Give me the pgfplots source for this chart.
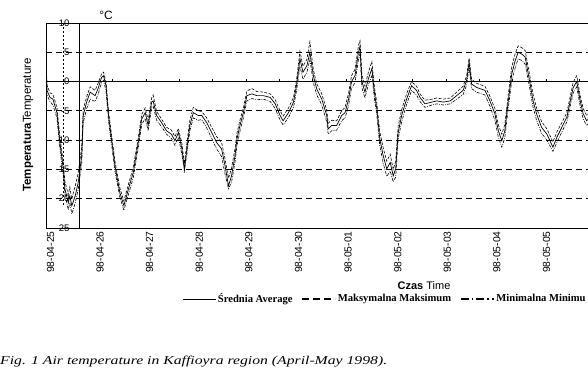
\documentclass[border=0pt]{standalone}
\usepackage{fontspec}
\setmainfont{Liberation Sans}
\newfontfamily\serif{Liberation Serif}
\usepackage{pgfplots}
\usepackage{pgfplotstable}
\pgfplotsset{compat=1.18}

\pgfplotstableread{
x avg hi lo
0.00 3.5 4.2 2.6
0.02 -1.5 -0.6 -2.3
0.08 -2.7 -1.9 -3.4
0.14 -3.0 -2.2 -4.0
0.22 -5.3 -4.4 -6.2
0.28 -10.4 -9.4 -11.5
0.35 -15.0 -13.9 -16.2
0.38 -18.3 -17.0 -19.2
0.45 -20.7 -19.3 -21.9
0.48 -19.5 -18.0 -20.6
0.52 -21.2 -20.1 -22.6
0.55 -20.5 -19.0 -21.8
0.59 -19.5 -17.8 -20.7
0.65 -17.2 -15.6 -18.4
0.72 -12.7 -11.2 -13.9
0.75 -5.8 -4.8 -7.0
0.82 -3.5 -2.6 -4.6
0.89 -1.8 -0.9 -3.0
0.99 -2.4 -1.5 -3.4
1.05 -1.2 -0.3 -2.2
1.12 0.7 1.3 -0.2
1.16 1.0 1.6 0.2
1.21 -0.7 0.0 -1.6
1.26 -5.8 -5.0 -6.7
1.33 -10.4 -9.6 -11.3
1.39 -14.4 -13.6 -15.3
1.49 -19.0 -18.2 -19.8
1.57 -21.2 -20.4 -22.0
1.66 -18.4 -17.6 -19.3
1.76 -15.5 -14.6 -16.4
1.86 -10.4 -9.6 -11.4
1.93 -6.4 -5.6 -7.3
2.00 -5.3 -4.5 -6.3
2.06 -7.5 -6.6 -8.4
2.13 -3.5 -2.8 -4.4
2.16 -3.3 -2.3 -4.2
2.23 -5.8 -5.1 -6.6
2.33 -7.0 -6.4 -7.7
2.43 -8.4 -7.8 -9.0
2.53 -9.0 -8.3 -9.7
2.60 -10.1 -9.4 -10.9
2.67 -8.7 -8.0 -9.5
2.74 -11.5 -10.6 -12.5
2.79 -14.9 -14.0 -15.3
2.84 -11.5 -10.6 -12.4
2.90 -7.5 -6.6 -8.4
2.97 -5.3 -4.4 -6.2
3.07 -5.8 -5.0 -6.6
3.14 -5.8 -5.1 -6.5
3.24 -7.0 -6.2 -7.9
3.34 -8.7 -7.8 -9.7
3.44 -10.4 -9.4 -11.5
3.54 -11.5 -10.4 -12.8
3.61 -14.4 -13.2 -15.8
3.68 -17.8 -16.5 -18.3
3.74 -16.1 -14.8 -17.2
3.81 -12.7 -11.5 -13.8
3.85 -9.8 -8.8 -11.0
3.91 -7.5 -6.6 -8.5
3.98 -5.3 -4.5 -6.2
4.05 -2.4 -1.6 -3.3
4.15 -2.1 -1.2 -2.9
4.25 -2.4 -1.7 -3.1
4.38 -2.4 -1.8 -3.0
4.52 -2.7 -2.1 -3.4
4.62 -3.8 -3.1 -4.6
4.72 -5.8 -5.0 -6.6
4.78 -6.7 -5.9 -7.4
4.89 -5.3 -4.5 -6.1
4.99 -3.5 -2.7 -4.4
5.05 -0.7 0.2 -1.6
5.12 3.9 5.2 2.6
5.18 1.6 2.6 0.4
5.26 2.7 3.8 1.6
5.32 5.0 6.8 3.8
5.39 1.0 2.0 -0.2
5.46 -1.3 -0.4 -2.3
5.56 -3.0 -2.1 -4.0
5.66 -5.8 -4.9 -6.9
5.69 -8.1 -7.1 -9.0
5.76 -7.5 -6.6 -8.4
5.86 -7.5 -6.7 -8.3
5.96 -5.8 -5.0 -6.7
6.03 -5.3 -4.4 -6.2
6.10 -3.0 -2.0 -4.1
6.16 0.0 1.0 -1.1
6.23 1.0 2.1 -0.2
6.30 5.0 6.2 3.8
6.33 6.0 7.0 4.8
6.37 0.0 1.2 -1.1
6.43 -1.8 -0.8 -2.8
6.50 0.5 1.6 -0.5
6.57 2.2 3.4 1.0
6.62 -1.8 -0.8 -2.8
6.67 -4.7 -3.7 -5.8
6.73 -9.8 -8.6 -11.0
6.80 -12.7 -11.4 -14.0
6.87 -14.9 -13.6 -16.2
6.94 -13.8 -12.4 -15.3
7.00 -16.1 -15.0 -17.1
7.05 -14.9 -13.6 -16.3
7.10 -8.7 -7.6 -9.8
7.17 -5.8 -4.8 -6.9
7.27 -3.0 -2.1 -3.9
7.37 -0.7 0.0 -1.5
7.47 -1.5 -0.8 -2.3
7.54 -2.7 -2.1 -3.4
7.64 -3.8 -3.2 -4.4
7.78 -3.5 -3.0 -4.0
7.88 -3.3 -2.8 -3.8
8.01 -3.5 -3.0 -4.0
8.15 -3.3 -2.8 -3.8
8.28 -2.4 -1.8 -3.0
8.41 -1.5 -0.8 -2.2
8.48 0.2 1.0 -0.6
8.53 3.3 4.0 2.4
8.58 -0.4 0.4 -1.2
8.68 -1.0 -0.3 -1.8
8.85 -1.5 -0.8 -2.3
8.95 -3.3 -2.5 -4.2
9.05 -5.5 -4.6 -6.6
9.12 -8.4 -7.4 -9.5
9.19 -10.1 -9.0 -11.2
9.25 -8.4 -7.3 -9.6
9.32 -3.3 -2.2 -4.5
9.39 1.3 2.5 0.1
9.46 3.6 4.8 2.4
9.52 5.0 6.1 3.9
9.59 4.7 5.8 3.6
9.66 4.2 5.3 3.0
9.76 -0.4 0.7 -1.5
9.82 -3.3 -2.2 -4.4
9.89 -5.5 -4.5 -6.6
9.99 -7.8 -6.8 -8.8
10.10 -9.0 -8.1 -10.0
10.22 -11.2 -10.3 -11.9
10.30 -9.5 -8.6 -10.4
10.40 -7.8 -7.0 -8.6
10.50 -6.1 -5.3 -6.9
10.57 -3.3 -2.5 -4.2
10.63 -1.0 -0.1 -1.9
10.70 0.0 1.0 -0.9
10.77 -3.3 -2.4 -4.2
10.83 -5.5 -4.6 -6.4
10.90 -6.7 -5.8 -7.5
10.97 -6.0 -5.1 -6.9
}\temps

\begin{document}
\begin{tikzpicture}
\useasboundingbox (0pt,0pt) rectangle (588pt,372pt);
\clip (0pt,0pt) rectangle (588pt,372pt);
\begin{axis}[
  at={(46pt,144pt)}, anchor=south west,
  scale only axis, width=546pt, height=205pt,
  xmin=0, xmax=11.008, ymin=-25, ymax=10,
  axis line style={line width=0.8pt},
  xtick={0,1,...,10},
  xticklabels={98-04-25,98-04-26,98-04-27,98-04-28,98-04-29,98-04-30,98-05-01,98-05-02,98-05-03,98-05-04,98-05-05},
  xticklabel style={rotate=90, anchor=east, yshift=-4.5pt, font=\fontsize{10.3}{12}\selectfont},
  ytick={-25,-20,-15,-10,-5,0,5,10},
  yticklabels={-25,-20,-15,-10,-5,0,5,10},
  yticklabel style={anchor=east, xshift=27pt, font=\fontsize{9.5}{11}\selectfont},
  major tick length=0pt,
  ymajorgrids,
  major grid style={black, line width=0.8pt, dash pattern=on 6pt off 4pt},
  extra y ticks={0}, extra y tick labels={},
  extra y tick style={major grid style={black, solid, line width=0.8pt}},
  extra x ticks={0.672}, extra x tick labels={},
  extra x tick style={grid=major, major grid style={black, solid, line width=0.8pt}},
  legend columns=3,
  legend style={at={(axis description cs:0.249,-0.346)}, anchor=west, draw=none, fill=none, inner sep=0pt,
    font=\serif\bfseries\fontsize{10.6}{12}\selectfont,
    /tikz/every even column/.append style={column sep=7pt}},
  legend image code/.code={\draw[#1] (0pt,0pt) -- (33pt,0pt);},
]
\addlegendimage{black, line width=0.8pt}
\addlegendentry{Średnia Average}
\addlegendimage{black, line width=1.2pt, dash pattern=on 7pt off 4pt}
\addlegendentry{Maksymalna Maksimum}
\addlegendimage{black, line width=1.2pt, dash pattern=on 8pt off 3pt on 1.5pt off 3pt}
\addlegendentry{Minimalna Minimu}
\addplot[black, line width=0.7pt, forget plot] table[x=x, y=avg]{\temps};
\addplot[black, line width=0.6pt, dash pattern=on 3pt off 1.5pt, forget plot] table[x=x, y=hi]{\temps};
\addplot[black, line width=0.6pt, dash pattern=on 3pt off 1.2pt on 0.8pt off 1.2pt, forget plot] table[x=x, y=lo]{\temps};
\draw[black, line width=0.6pt, dash pattern=on 2pt off 2pt] (axis cs:0.34,10) -- (axis cs:0.34,-21);
\pgfplotsinvokeforeach{2,...,16}{\draw[black, line width=0.6pt] (axis cs:{#1*0.672},0) -- ++(0pt,3pt);}
\end{axis}
\node[rotate=90, font=\fontsize{11.5}{14}\selectfont] at (28pt,247pt) {\textbf{Temperatura}Temperature};
\node[font=\fontsize{12}{14}\selectfont] at (106pt,357pt) {°C};
\node[font=\fontsize{11}{13}\selectfont] at (424pt,86pt) {\textbf{Czas} Time};
\node[anchor=west, inner sep=0pt] at (0pt,10pt) {\scalebox{1.31}[1.0]{\serif\itshape\fontsize{12}{14}\selectfont Fig. 1 Air temperature in Kaffioyra region (April-May 1998).}};
\end{tikzpicture}
\end{document}
